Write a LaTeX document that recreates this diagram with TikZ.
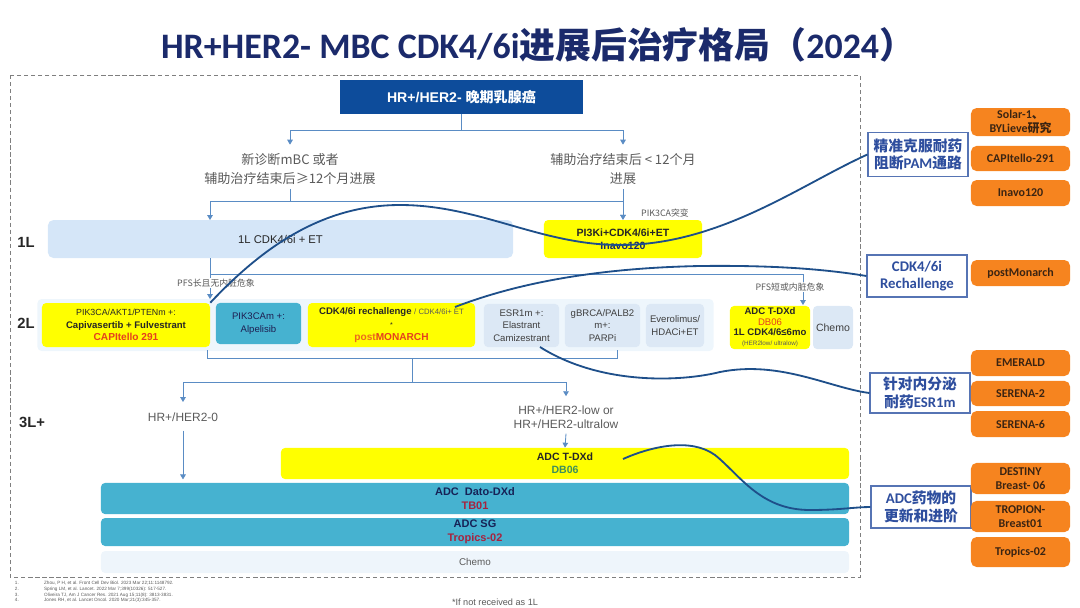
\documentclass[tikz,border=0pt]{standalone}
\usepackage{fontspec}
\setmainfont{Liberation Sans}
\newfontfamily\cjk{Noto Sans CJK SC}
\newfontfamily\cali{Carlito}
\usepackage{xcolor}
\usetikzlibrary{arrows.meta}
\definecolor{navy}{HTML}{1B2A6B}
\definecolor{topblue}{HTML}{0D4C9B}
\definecolor{linkblue}{HTML}{5A8CC4}
\definecolor{oneblue}{HTML}{D5E6F8}
\definecolor{bandblue}{HTML}{EEF6FC}
\definecolor{paleblue}{HTML}{DCE8F5}
\definecolor{chemoblue}{HTML}{EEF5FB}
\definecolor{yel}{HTML}{FFFF00}
\definecolor{adcteal}{HTML}{46B2D0}
\definecolor{orng}{HTML}{F6841F}
\definecolor{callblue}{HTML}{5674B4}
\definecolor{calltext}{HTML}{2E4E9E}
\definecolor{curveblue}{HTML}{1E4F8A}
\definecolor{txtgray}{HTML}{5A5A5A}
\definecolor{txtdark}{HTML}{262626}
\definecolor{trialred}{HTML}{E5401E}
\definecolor{postred}{HTML}{EC6A1C}
\definecolor{trialmaroon}{HTML}{A6233F}
\definecolor{dbgreen}{HTML}{3E8F5C}
\definecolor{framegray}{HTML}{7F7F7F}
\definecolor{obtext}{HTML}{3B2412}

\tikzset{
  link/.style={draw=linkblue,line width=0.6pt},
  arr/.style={link,-{Triangle[width=4pt,length=3.5pt]}},
  curve/.style={draw=curveblue,line width=1.3pt},
  lvl/.style={font=\bfseries\fontsize{10.5}{12}\selectfont,text=txtdark},
  graytxt/.style={text=txtgray,align=center,font=\cjk\fontsize{9.3}{13}\selectfont},
  note/.style={text=txtgray,font=\cjk\fontsize{6.3}{7}\selectfont,fill=white,inner sep=0.5pt},
  boxbase/.style={rounded corners=3pt,inner sep=0pt,align=center,text=txtdark,
    font=\fontsize{6.8}{9}\selectfont},
  ybox/.style={boxbase,fill=yel},
  tbox/.style={boxbase,fill=adcteal},
  pbox/.style={boxbase,fill=paleblue},
  obox/.style={rounded corners=4pt,fill=orng,inner sep=0pt,align=center,text=obtext,
    minimum width=2.475cm,font=\cali\bfseries\fontsize{8.5}{10.5}\selectfont},
  callout/.style={draw=callblue,fill=white,line width=0.8pt,inner sep=0pt,align=center,
    text=calltext,minimum width=2.5cm,font=\cali\bfseries\fontsize{10.5}{12.5}\selectfont},
}

\begin{document}
\begin{tikzpicture}[x=0.025cm,y=-0.025cm]
\useasboundingbox (0,0) rectangle (1080,607);

% title and frame
\node[text=navy,font=\cali\bfseries\fontsize{25.5}{29}\selectfont] (title) at (538,45)
  {HR+HER2- MBC CDK4/6i{\cjk 进展后治疗格局（}2024{\cjk ）}};
\draw[framegray,line width=0.7pt,dash pattern=on 3pt off 2pt] (10,75) rectangle (860,577);

% top of the tree
\node[fill=topblue,text=white,minimum width=6.08cm,minimum height=0.85cm,
  font=\bfseries\fontsize{10}{12}\selectfont] (top) at (461.5,97) {HR+/HER2- {\cjk 晚期乳腺癌}};
\node[graytxt] (newdx) at (290,169) {新诊断mBC 或者\\辅助治疗结束后≥12个月进展};
\node[graytxt] (adj) at (623,169) {辅助治疗结束后 < 12个月\\进展};
\draw[link] (top.south) -- ++(0,16) coordinate (s1);
\draw[arr] (s1) -| ([yshift=3pt]newdx.north);
\draw[arr] (s1) -| ([yshift=3pt]adj.north);

% 1L
\node[lvl] (l1) at (26,242) {1L};
\node[boxbase,fill=oneblue,rounded corners=4pt,minimum width=11.63cm,minimum height=0.95cm,
  font=\fontsize{8}{10}\selectfont] (onel) at (280.5,239) {1L CDK4/6i + ET};
\node[ybox,minimum width=3.95cm,minimum height=0.95cm,font=\bfseries\fontsize{7.5}{9.5}\selectfont]
  (pi3k) at (623,239) {PI3Ki+CDK4/6i+ET\\{\color{navy}Inavo120}};
\node[note,fill=none] (pikmut) at (665,213) {PIK3CA突变};
\coordinate (onein) at (210,220);
\draw[link] (newdx.south) -- ++(0,12) coordinate (s2);
\draw[arr] (s2) -| (onein);
\draw[arr] (s2) -| (pi3k.north);
\draw[arr] (adj.south) -- (pi3k.north);

% 2L
\node[lvl] (l2) at (26,323) {2L};
\node[rounded corners=3pt,fill=bandblue,minimum width=16.9cm,minimum height=1.3cm] (band) at (375.5,325) {};
\node[ybox,minimum width=4.2cm,minimum height=1.1cm] (b1) at (126,325)
  {{\fontsize{6.3}{9}\selectfont PIK3CA/AKT1/PTENm +:}\\\textbf{Capivasertib + Fulvestrant}\\
   {\color{trialred}\bfseries\fontsize{7.2}{9}\selectfont CAPItello 291}};
\node[tbox,text=txtdark!80!blue,minimum width=2.13cm,minimum height=1.03cm] (b2) at (258.5,323.5)
  {PIK3CAm +:\\Alpelisib};
\node[ybox,minimum width=4.18cm,minimum height=1.1cm] (b3) at (391.5,325)
  {\textbf{CDK4/6i rechallenge} {\color{txtgray}\fontsize{5.5}{9}\selectfont/ CDK4/6i+ ET}\\
   {\fontsize{5}{7}\selectfont *}\\
   {\bfseries\fontsize{7.2}{9}\selectfont\color{postred}post\color{trialred}MONARCH}};
\node[pbox,text=txtgray!70!black,minimum width=1.88cm,minimum height=1.08cm] (b4) at (521.5,325.5)
  {ESR1m +:\\Elastrant\\Camizestrant};
\node[pbox,text=txtgray!70!black,minimum width=1.88cm,minimum height=1.08cm] (b5) at (602.5,325.5)
  {gBRCA/PALB2\\m+:\\PARPi};
\node[pbox,text=txtgray!70!black,minimum width=1.45cm,minimum height=1.08cm] (b6) at (675,325.5)
  {Everolimus/\\HDACi+ET};
\node[ybox,minimum width=2cm,minimum height=1.08cm,font=\fontsize{6.8}{7.4}\selectfont] (b7) at (770,327.5)
  {\textbf{ADC T-DXd}\\{\color{trialred}DB06}\\\textbf{1L CDK4/6≤6mo}\\
   {\color{txtgray}\fontsize{4.5}{6}\selectfont(HER2low/ ultralow)}};
\node[pbox,text=txtgray!70!black,minimum width=1cm,minimum height=1.08cm,font=\fontsize{7.5}{9}\selectfont]
  (b8) at (833,327.5) {Chemo};
\coordinate (oneout) at (210,258);
\coordinate (twoin) at (210,299);
\coordinate (adcin) at (803,305);
\draw[link] (oneout) -- (210,274) coordinate (s3);
\draw[arr] (s3) -| (adcin);
\draw[arr] (s3) -- (twoin);
\node[note] (pfslong) at (216,283) {PFS长且无内脏危象};
\node[note] (pfsshort) at (790,287) {PFS短或内脏危象};

% 3L+
\node[lvl] (l3) at (32,422) {3L+};
\coordinate (br1) at (207,350);
\coordinate (br2) at (617,350);
\draw[link] (br1) -- ++(0,8) -| (br2);
\draw[link] (412,358) -- (412,382) coordinate (s4);
\node[graytxt,font=\fontsize{8.5}{10.3}\selectfont] (her0) at (183,417) {HR+/HER2-0};
\node[graytxt,font=\fontsize{8.5}{10.3}\selectfont] (herlow) at (566,417) {HR+/HER2-low or\\HR+/HER2-ultralow};
\draw[arr] (s4) -| ([yshift=4pt]her0.north);
\draw[arr] (s4) -| ([yshift=3pt]herlow.north);
\node[ybox,minimum width=14.2cm,minimum height=0.78cm,font=\bfseries\fontsize{7.5}{9.5}\selectfont]
  (tdxd) at (565,463.5) {ADC T-DXd\\{\color{dbgreen}DB06}};
\node[tbox,minimum width=18.7cm,minimum height=0.78cm,text=navy!80!black,font=\bfseries\fontsize{7.8}{9.7}\selectfont]
  (dato) at (475,498.5) {ADC~~Dato-DXd\\{\color{trialmaroon}TB01}};
\node[tbox,minimum width=18.7cm,minimum height=0.7cm,text=navy!80!black,font=\bfseries\fontsize{7.8}{9.7}\selectfont]
  (sg) at (475,532) {ADC SG\\{\color{trialmaroon}Tropics-02}};
\node[boxbase,fill=chemoblue,minimum width=18.7cm,minimum height=0.55cm,text=txtgray,
  font=\fontsize{7}{8}\selectfont] (chemo) at (475,562) {Chemo};
\draw[arr] ([yshift=-3pt]her0.south) -- (her0.south |- tdxd.south);
\draw[arr] (herlow.south) -- (tdxd.north);

% references
\node[anchor=west,text=txtgray,font=\fontsize{3.3}{4}\selectfont,align=left] (refs) at (10,592)
  {1.\hspace{18pt}Zhou, P H, et al. Front Cell Dev Biol. 2023 Mar 22;11:1148792.\\
   2.\hspace{18pt}Spring LM, et al. Lancet. 2022 Mar 7;399(10326): 517-527.\\
   3.\hspace{18pt}Oliveira TJ, Am J Cancer Res. 2021 Aug 15;11(8): 3813-3831.\\
   4.\hspace{18pt}Jones RH, et al. Lancet Oncol. 2020 Mar;21(3):345-357.};
\node[text=txtgray,font=\fontsize{6.5}{8}\selectfont] (foot) at (495,602) {*If not received as 1L};

% right side: callouts and trials
\node[callout,minimum height=1.08cm] (c1) at (918,154.5) {{\cjk 精准克服耐药}\\{\cjk 阻断}PAM{\cjk 通路}};
\node[callout,minimum height=1.05cm] (c2) at (917,276) {CDK4/6i\\Rechallenge};
\node[callout,minimum height=1cm] (c3) at (920,393) {{\cjk 针对内分泌}\\{\cjk 耐药}ESR1m};
\node[callout,minimum height=1.05cm] (c4) at (921,507) {ADC{\cjk 药物的}\\{\cjk 更新和进阶}};
\node[obox,minimum height=0.7cm] (o1) at (1020.5,122) {Solar-1{\cjk 、}\\BYLieve{\cjk 研究}};
\node[obox,minimum height=0.63cm] (o2) at (1020.5,158.5) {CAPItello-291};
\node[obox,minimum height=0.65cm] (o3) at (1020.5,193) {Inavo120};
\node[obox,minimum height=0.65cm] (o4) at (1020.5,273) {postMonarch};
\node[obox,minimum height=0.65cm] (o5) at (1020.5,363) {EMERALD};
\node[obox,minimum height=0.63cm] (o6) at (1020.5,393.5) {SERENA-2};
\node[obox,minimum height=0.65cm] (o7) at (1020.5,424) {SERENA-6};
\node[obox,minimum height=0.78cm] (o8) at (1020.5,478.5) {DESTINY\\Breast- 06};
\node[obox,minimum height=0.78cm] (o9) at (1020.5,516.5) {TROPION-\\Breast01};
\node[obox,minimum height=0.75cm] (o10) at (1020.5,552) {Tropics-02};

% curves to the callouts
\coordinate (rech) at (455,307);
\coordinate (esr) at (540,347);
\coordinate (db06) at (623,459);
\draw[curve] (b1.north east) .. controls (260,250) and (320,205) .. (400,205)
  .. controls (480,205) and (540,245) .. (620,245) .. controls (720,245) and (800,185) .. (c1.west);
\draw[curve] (rech) .. controls (520,282) and (600,268) .. (700,266)
  .. controls (780,265) and (830,270) .. (c2.west);
\draw[curve] (esr) .. controls (600,385) and (680,382) .. (720,372)
  .. controls (780,360) and (830,388) .. (c3.west);
\draw[curve] (db06) .. controls (650,447) and (690,437) .. (715,455)
  .. controls (740,475) and (760,510) .. (810,510) .. controls (840,510) and (855,507) .. (c4.west);
\end{tikzpicture}
\end{document}
